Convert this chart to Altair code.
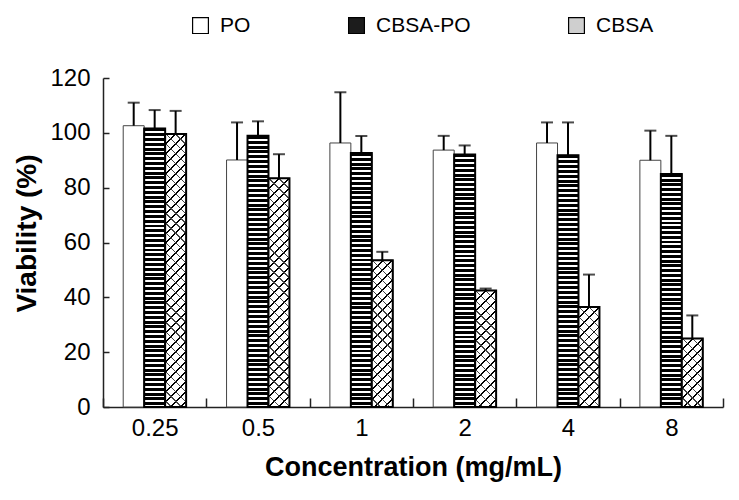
import math
import altair as alt
import pandas as pd

concentrations = ["0.25", "0.5", "1", "2", "4", "8"]
groups = ["PO", "CBSA-PO", "CBSA"]
po_mean = [102.6, 90.1, 96.3, 93.7, 96.3, 90.0]
po_err = [8.4, 13.7, 18.5, 5.2, 7.5, 10.8]
cbsapo_mean = [101.6, 98.9, 92.6, 92.1, 91.8, 85.0]
cbsapo_err = [6.7, 5.3, 6.2, 3.3, 12.0, 13.9]
cbsa_mean = [99.6, 83.4, 53.5, 42.5, 36.5, 25.0]
cbsa_err = [8.4, 8.8, 3.1, 0.7, 11.8, 8.4]

rows = []
for g, means, errs in zip(groups, [po_mean, cbsapo_mean, cbsa_mean],
                          [po_err, cbsapo_err, cbsa_err]):
    for c, m, e in zip(concentrations, means, errs):
        rows.append({"conc": c, "group": g, "value": m, "upper": round(m + e, 2)})
df = pd.DataFrame(rows)

W, H = 620, 329
YMAX = 120
OUTER = 0.964
BAR_W = W / len(concentrations) / (3 + 2 * OUTER)
FONT = "Liberation Sans"

x_enc = alt.X(
    "conc:N", sort=concentrations, title="Concentration (mg/mL)",
    scale=alt.Scale(domain=concentrations, paddingInner=0, paddingOuter=0),
    axis=alt.Axis(labelAngle=0, tickBand="extent", tickSize={"expr": "-9"},
                  labelPadding=18, titlePadding=14, labelFontSize=24,
                  titleFontSize=27, titleFontWeight="bold"),
)
xo_enc = alt.XOffset(
    "group:N", sort=groups,
    scale=alt.Scale(domain=groups, paddingInner=0, paddingOuter=OUTER),
)
y_enc = alt.Y(
    "value:Q", title="Viability (%)",
    scale=alt.Scale(domain=[0, YMAX], nice=False, zero=True),
    axis=alt.Axis(values=[0, 20, 40, 60, 80, 100, 120], tickSize={"expr": "-6"},
                  labelPadding=19, titlePadding=8, labelFontSize=24,
                  titleFontSize=28, titleFontWeight="bold", titleY=155),
)

base = alt.Chart(df)

bars = base.mark_bar(stroke="#444", strokeWidth=1).encode(
    x=x_enc, xOffset=xo_enc, y=y_enc,
    fill=alt.Fill(
        "group:N",
        scale=alt.Scale(domain=groups, range=["white", "#1c1c1c", "#cfcfcf"]),
        legend=alt.Legend(
            title=None, orient="none", direction="horizontal", legendX=87,
            legendY=-63, columnPadding=95, symbolType="square", symbolSize=250,
            symbolStrokeColor="black", symbolStrokeWidth=1.2, labelFontSize=21,
            labelOffset=9, padding=0,
        ),
    ),
)


def stripe_stops(n, frac):
    stops = []
    for i in range(n):
        a = i / n
        b = (i + frac) / n
        c = (i + 1) / n
        stops += [
            alt.GradientStop(offset=round(a, 5), color="black"),
            alt.GradientStop(offset=round(b, 5), color="black"),
            alt.GradientStop(offset=round(b, 5), color="white"),
            alt.GradientStop(offset=round(c, 5), color="white"),
        ]
    return stops


def hatch_stops(tmax, dt, frac, bg, fg):
    stops = []
    t = 0.0
    while t < tmax + dt:
        b = min(t + dt * frac, 1.0)
        c = min(t + dt, 1.0)
        stops += [
            alt.GradientStop(offset=round(min(t, 1.0), 6), color=fg),
            alt.GradientStop(offset=round(b, 6), color=fg),
            alt.GradientStop(offset=round(b, 6), color=bg),
            alt.GradientStop(offset=round(c, 6), color=bg),
        ]
        t += dt
        if c >= 1.0:
            break
    return stops


layers = [bars]

# horizontal stripes for CBSA-PO
for c, m in zip(concentrations, cbsapo_mean):
    h = m * H / YMAX
    n = max(1, round(h / 4.8))
    grad = alt.LinearGradient(gradient="linear", x1=0, y1=0, x2=0, y2=1,
                              stops=stripe_stops(n, 0.62))
    layers.append(
        base.transform_filter(
            (alt.datum.conc == c) & (alt.datum.group == "CBSA-PO")
        ).mark_bar(fill=grad, stroke="black", strokeWidth=2).encode(
            x=x_enc, xOffset=xo_enc, y=y_enc)
    )

# cross hatch for CBSA
P = 7.0
for c, m in zip(concentrations, cbsa_mean):
    h = m * H / YMAX
    k = h / BAR_W
    denom = BAR_W * (1 + k * k)
    tmax = (BAR_W + h) / denom
    dt = P * math.sqrt(2) / denom
    g1 = alt.LinearGradient(gradient="linear", x1=0, y1=0, x2=1, y2=k,
                            stops=hatch_stops(tmax, dt, 0.2, "white", "black"))
    g2 = alt.LinearGradient(gradient="linear", x1=1, y1=0, x2=0, y2=k,
                            stops=hatch_stops(tmax, dt, 0.14, "rgba(0,0,0,0)", "#444"))
    flt = (alt.datum.conc == c) & (alt.datum.group == "CBSA")
    layers.append(base.transform_filter(flt).mark_bar(fill=g1, strokeWidth=0).encode(
        x=x_enc, xOffset=xo_enc, y=y_enc))
    layers.append(base.transform_filter(flt).mark_bar(
        fill=g2, stroke="black", strokeWidth=2).encode(
        x=x_enc, xOffset=xo_enc, y=y_enc))

err_rule = base.mark_rule(color="black", strokeWidth=2).encode(
    x=x_enc, xOffset=xo_enc, y=y_enc, y2="upper:Q")
err_cap = base.mark_tick(color="black", thickness=2, size=12, orient="horizontal").encode(
    x=x_enc, xOffset=xo_enc, y=alt.Y("upper:Q", scale=alt.Scale(domain=[0, YMAX], nice=False)))
layers += [err_rule, err_cap]

chart = alt.layer(*layers).properties(
    width=W, height=H,
    autosize=alt.AutoSizeParams(type="none"),
    padding={"left": 95, "top": 70, "right": 8, "bottom": 85},
    background="white",
).configure_view(strokeWidth=0).configure_axis(
    grid=False, domainColor="#222", domainWidth=1.5, tickColor="#222",
    tickWidth=1.5, labelColor="black", titleColor="black", labelFont=FONT,
    titleFont=FONT,
).configure_legend(labelFont=FONT, labelColor="black")

chart.save("out.html", embed_options={"renderer": "svg", "actions": False})
